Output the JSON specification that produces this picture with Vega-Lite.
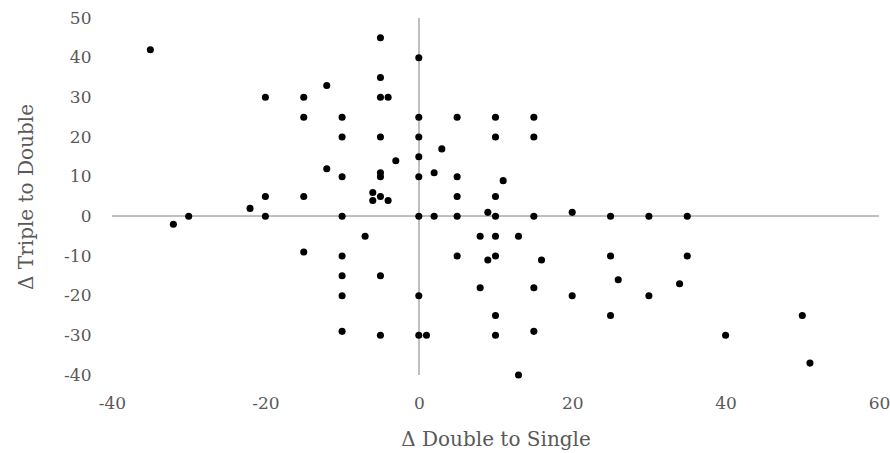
{
  "$schema": "https://vega.github.io/schema/vega-lite/v6.json",
  "autosize": "none",
  "width": 767,
  "height": 357,
  "padding": {"left": 112, "top": 18, "right": 11, "bottom": 78},
  "background": "white",
  "config": {
    "view": {"stroke": null},
    "font": "DejaVu Serif",
    "axis": {
      "domain": false, "ticks": false, "grid": false, "labelOverlap": false, "labelFlush": false,
      "labelExpr": "replace(datum.label, '−', '-')",
      "labelFont": "DejaVu Serif", "labelFontSize": 17, "labelColor": "#595959",
      "titleFont": "DejaVu Serif", "titleFontSize": 20, "titleColor": "#595959", "titleFontWeight": "normal"
    }
  },
  "data": {"values": [
    {"x": -35, "y": 42}, {"x": -5, "y": 45}, {"x": -5, "y": 35}, {"x": -12, "y": 33},
    {"x": -20, "y": 30}, {"x": -15, "y": 30}, {"x": -5, "y": 30}, {"x": -4, "y": 30},
    {"x": -15, "y": 25}, {"x": -10, "y": 25}, {"x": 0, "y": 25},
    {"x": -10, "y": 20}, {"x": -5, "y": 20}, {"x": 0, "y": 20},
    {"x": 0, "y": 15}, {"x": -3, "y": 14}, {"x": -12, "y": 12},
    {"x": -10, "y": 10}, {"x": -5, "y": 11}, {"x": -5, "y": 10}, {"x": 0, "y": 10},
    {"x": -20, "y": 5}, {"x": -15, "y": 5}, {"x": -6, "y": 6}, {"x": -5, "y": 5},
    {"x": -6, "y": 4}, {"x": -4, "y": 4}, {"x": -22, "y": 2},
    {"x": 0, "y": 40}, {"x": 5, "y": 25}, {"x": 10, "y": 25}, {"x": 15, "y": 25},
    {"x": 10, "y": 20}, {"x": 15, "y": 20}, {"x": 3, "y": 17}, {"x": 2, "y": 11},
    {"x": 5, "y": 10}, {"x": 11, "y": 9}, {"x": 5, "y": 5}, {"x": 10, "y": 5},
    {"x": -32, "y": -2}, {"x": -30, "y": 0}, {"x": -20, "y": 0}, {"x": -10, "y": 0}, {"x": 0, "y": 0},
    {"x": -7, "y": -5}, {"x": -15, "y": -9}, {"x": -10, "y": -10},
    {"x": -10, "y": -15}, {"x": -5, "y": -15}, {"x": -10, "y": -20}, {"x": 0, "y": -20},
    {"x": -10, "y": -29}, {"x": -5, "y": -30}, {"x": 0, "y": -30}, {"x": 1, "y": -30},
    {"x": 2, "y": 0}, {"x": 5, "y": 0}, {"x": 9, "y": 1}, {"x": 10, "y": 0}, {"x": 15, "y": 0},
    {"x": 20, "y": 1}, {"x": 25, "y": 0}, {"x": 30, "y": 0}, {"x": 35, "y": 0},
    {"x": 8, "y": -5}, {"x": 10, "y": -5}, {"x": 13, "y": -5},
    {"x": 5, "y": -10}, {"x": 9, "y": -11}, {"x": 10, "y": -10}, {"x": 16, "y": -11},
    {"x": 25, "y": -10}, {"x": 35, "y": -10}, {"x": 26, "y": -16}, {"x": 34, "y": -17},
    {"x": 8, "y": -18}, {"x": 15, "y": -18}, {"x": 20, "y": -20}, {"x": 30, "y": -20},
    {"x": 10, "y": -25}, {"x": 25, "y": -25}, {"x": 50, "y": -25},
    {"x": 10, "y": -30}, {"x": 15, "y": -29}, {"x": 40, "y": -30},
    {"x": 51, "y": -37}, {"x": 13, "y": -40}
  ]},
  "layer": [
    {"mark": {"type": "rule", "color": "#bfbfbf", "strokeWidth": 1.5}, "encoding": {"x": {"datum": 0, "type": "quantitative"}}},
    {"mark": {"type": "rule", "color": "#bfbfbf", "strokeWidth": 1.5}, "encoding": {"y": {"datum": 0, "type": "quantitative"}}},
    {
      "mark": {"type": "point", "filled": true, "color": "black", "opacity": 1, "size": 50},
      "encoding": {
        "x": {"field": "x", "type": "quantitative", "scale": {"domain": [-40, 60], "nice": false, "zero": false},
              "axis": {"title": "Δ Double to Single", "values": [-40, -20, 0, 20, 40, 60], "labelOverlap": false, "labelFlush": false, "labelPadding": 20, "titlePadding": 18}},
        "y": {"field": "y", "type": "quantitative", "scale": {"domain": [-40, 50], "nice": false, "zero": false},
              "axis": {"title": "Δ Triple to Double", "values": [-40, -30, -20, -10, 0, 10, 20, 30, 40, 50], "tickCount": 10, "labelOverlap": false, "labelFlush": false, "labelPadding": 21, "titlePadding": 27}}
      }
    }
  ]
}
